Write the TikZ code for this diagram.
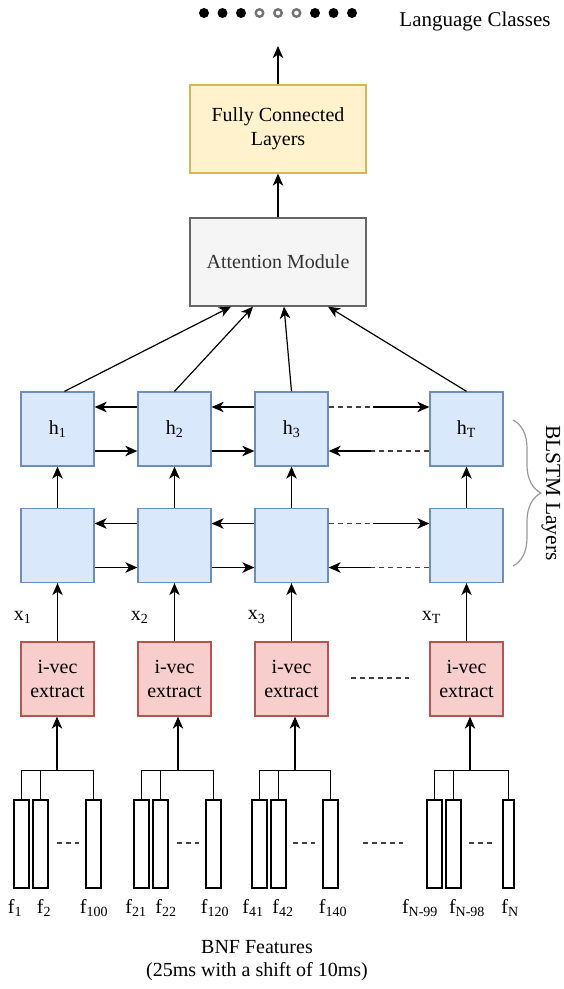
\documentclass[tikz,border=0pt]{standalone}
\usepackage{fontspec}
\setmainfont{Liberation Serif}
\usetikzlibrary{arrows.meta,positioning,decorations.pathreplacing}
\definecolor{lstmfill}{HTML}{DAE8FC}
\definecolor{lstmdraw}{HTML}{6C8EBF}
\definecolor{ivecfill}{HTML}{F8CECC}
\definecolor{ivecdraw}{HTML}{B85450}
\definecolor{fcfill}{HTML}{FFF2CC}
\definecolor{fcdraw}{HTML}{D6B656}
\definecolor{attfill}{HTML}{F5F5F5}
\definecolor{attdraw}{HTML}{666666}
\definecolor{atttext}{HTML}{333333}
\newcommand{\diagfont}{\fontsize{20}{24}\selectfont}
\tikzset{
  cell/.style={rectangle, draw=lstmdraw, fill=lstmfill, line width=1.3pt,
               minimum width=73pt, minimum height=74pt, inner sep=0pt, font=\diagfont},
  ivec/.style={cell, draw=ivecdraw, fill=ivecfill, align=center},
  block/.style={rectangle, line width=1.3pt, minimum width=176pt, minimum height=88pt,
                inner sep=0pt, font=\diagfont, align=center},
  arrow/.style={-{Stealth[length=12pt,width=10.5pt,inset=3.5pt]}, line width=1.2pt},
}

\begin{document}
\begin{tikzpicture}[
    x=1pt, y=-1pt,
    link/.style={line width=1.2pt},
    gap/.style={line width=1.2pt, black!75, dash pattern=on 5pt off 4pt},
    bar/.style={rectangle, draw, line width=1.2pt, minimum width=15pt, minimum height=88pt, inner sep=0pt},
    dotfull/.style={circle, fill=black, minimum size=10pt, inner sep=0pt},
    dothollow/.style={circle, draw=black!55, line width=2.4pt, minimum size=7.5pt, inner sep=0pt},
    lbl/.style={font=\diagfont, inner sep=0pt},
    brace/.style={decorate, decoration={brace, amplitude=28pt}, draw=black!40, line width=1.2pt}
]
\useasboundingbox (0,0) rectangle (564,989);

% Output classes
\foreach \k/\s in {0/dotfull,1/dotfull,2/dotfull,3/dothollow,4/dothollow,5/dothollow,6/dotfull,7/dotfull,8/dotfull}
    \node[\s] (d\k) at ({204+18.5*\k},13) {};
\node[lbl, font=\fontsize{21}{24}\selectfont] (cls) at (475,21) {Language Classes};
\coordinate (out) at (278,46);

% Top blocks
\node[block, draw=fcdraw, fill=fcfill] (fc) at (278,129) {Fully Connected\\Layers};
\node[block, draw=attdraw, fill=attfill, text=atttext] (att) at (278,262) {Attention Module};
\draw[arrow] (fc) -- (out);
\draw[arrow] (att) -- (fc);

% Columns
\foreach \i/\cx in {1/57.5, 2/174.5, 3/291.5, T/466.5} {
    \node[cell] (h\i) at (\cx,429) {h\textsubscript{\i}};
    \node[cell] (l\i) at (\cx,545.5) {};
    \node[ivec] (v\i) at (\cx,679) {i-vec\\extract};
    \node[lbl] (x\i) at ({\cx-35},617) {x\textsubscript{\i}};
    \draw[arrow] (l\i) -- (h\i);
    \draw[arrow] (v\i) -- (l\i);
}

% Recurrent links
\foreach \r in {h,l} {
    \foreach \a/\b in {1/2,2/3} {
        \draw[arrow] ([yshift=22pt]\r\b.west) -- ([yshift=22pt]\r\a.east);
        \draw[arrow] ([yshift=-22pt]\r\a.east) -- ([yshift=-22pt]\r\b.west);
    }
    \draw[gap] ([yshift=22pt]\r3.east) -- ++(44pt,0pt) coordinate (\r-mu);
    \draw[arrow] (\r-mu) -- ([yshift=22pt]\r T.west);
    \draw[gap] ([yshift=-22pt]\r T.west) -- ++(-58pt,0pt) coordinate (\r-md);
    \draw[arrow] (\r-md) -- ([yshift=-22pt]\r3.east);
}

% Attention inputs
\foreach \i/\s/\e in {1/7/-47, 2/0/-25, 3/0/6, T/0/50}
    \draw[arrow] ([xshift=\s pt]h\i.north) -- ([xshift=\e pt]att.south);

% BLSTM brace
\coordinate (bt) at (513,420);
\coordinate (bb) at (513,566);
\draw[brace] (bt) -- (bb);
\node[lbl, rotate=-90, font=\fontsize{21.5}{24}\selectfont] (blstm) at (551,493) {BLSTM Layers};

% BNF feature frames
\foreach \g/\a/\b/\c/\w/\j in {1/21.5/40.5/93.5/15/57, 2/141.5/160.5/213.5/15/178,
                               3/259.5/278.5/330.5/15/295, T/434.5/453.5/508.5/11/470} {
    \node[bar] (ba\g) at (\a,844) {};
    \node[bar] (bb\g) at (\b,844) {};
    \node[bar, minimum width=\w pt] (bc\g) at (\c,844) {};
    \coordinate (j\g) at (\j,771);
    \draw[link] (ba\g.north) -- ++(0pt,29pt) -| (bc\g.north);
    \draw[link] (bb\g.north) -- ++(0pt,29pt);
    \draw[arrow] (j\g) -- (v\g.south -| j\g);
}
\foreach \u/\v in {57/79, 177/199, 293/315, 469/492, 363/403}
    \draw[gap] (\u,843) -- (\v,843);
\draw[gap] (351,678) -- (409,678);

% Frame labels
\foreach \n/\x/\t in {a1/15/1, b1/44/2, c1/94/100, a2/136/21, b2/166/22, c2/215/120,
                      a3/253/41, b3/283/42, c3/333/140, aT/420/N-99, bT/467/N-98, cT/510/N}
    \node[lbl] (t\n) at (\x,908) {f\textsubscript{\t}};

\node[lbl, align=center, font=\fontsize{20}{23}\selectfont] (bnf) at (257,961)
    {BNF Features\\(25ms with a shift of 10ms)};
\end{tikzpicture}
\end{document}
